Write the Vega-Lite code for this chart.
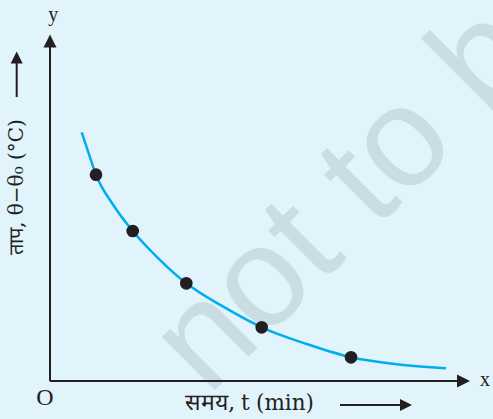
{
  "$schema": "https://vega.github.io/schema/vega-lite/v6.json",
  "width": 493,
  "height": 419,
  "autosize": {"type": "none"},
  "padding": 0,
  "background": "#e1f3fb",
  "config": {"view": {"stroke": null}},
  "datasets": {
    "curve": [
      {"t": 31.7, "v": 248.7},
      {"t": 38.7, "v": 227.7},
      {"t": 46, "v": 206.3},
      {"t": 63.3, "v": 176},
      {"t": 82.7, "v": 150},
      {"t": 108.3, "v": 122.7},
      {"t": 136.3, "v": 97.7},
      {"t": 173.3, "v": 74.3},
      {"t": 211.7, "v": 53.7},
      {"t": 256.7, "v": 37},
      {"t": 301, "v": 23.7},
      {"t": 346.7, "v": 16.7},
      {"t": 396, "v": 12.7}
    ],
    "points": [
      {"t": 46, "v": 206.3},
      {"t": 82.7, "v": 150},
      {"t": 136.3, "v": 97.7},
      {"t": 211.7, "v": 53.7},
      {"t": 301, "v": 23.7}
    ],
    "axes": [
      {"x1": 0, "y1": 0, "x2": 0, "y2": 335},
      {"x1": 0, "y1": 0, "x2": 408, "y2": 0},
      {"x1": -33.3, "y1": 284, "x2": -33.3, "y2": 319},
      {"x1": 290, "y1": -24, "x2": 351, "y2": -24}
    ],
    "heads": [
      {"x": 0, "y": 340, "dir": "up", "s": 169},
      {"x": 413.5, "y": 0, "dir": "right", "s": 169},
      {"x": -33.3, "y": 323.5, "dir": "up", "s": 144},
      {"x": 356, "y": -24, "dir": "right", "s": 144}
    ],
    "labels": [
      {"x": 3.3, "y": 366, "text": "y", "size": 20},
      {"x": 435, "y": 1, "text": "x", "size": 20},
      {"x": -5, "y": -17, "text": "O", "size": 24}
    ]
  },
  "layer": [
    {
      "data": {"values": [{"x": 158, "y": -16, "text": "not to be"}]},
      "mark": {"type": "text", "font": "Liberation Sans", "fontSize": 142, "angle": -45, "align": "left", "baseline": "alphabetic", "color": "#c9dde4"},
      "encoding": {
        "x": {"field": "x", "type": "quantitative", "scale": {"domain": [-50, 443], "nice": false, "zero": false}, "axis": null},
        "y": {"field": "y", "type": "quantitative", "scale": {"domain": [-38, 381], "nice": false, "zero": false}, "axis": null},
        "text": {"field": "text"}
      }
    },
    {
      "data": {"name": "axes"},
      "mark": {"type": "rule", "color": "#231f20", "strokeWidth": 2},
      "encoding": {
        "x": {"field": "x1", "type": "quantitative"},
        "y": {"field": "y1", "type": "quantitative"},
        "x2": {"field": "x2"},
        "y2": {"field": "y2"}
      }
    },
    {
      "data": {"name": "heads"},
      "transform": [{"filter": "datum.dir === 'up'"}],
      "mark": {"type": "point", "shape": "M0,-1L1,1L-1,1Z", "filled": true, "color": "#231f20", "opacity": 1, "strokeWidth": 0},
      "encoding": {
        "x": {"field": "x", "type": "quantitative"},
        "y": {"field": "y", "type": "quantitative"},
        "size": {"field": "s", "type": "quantitative", "scale": null}
      }
    },
    {
      "data": {"name": "heads"},
      "transform": [{"filter": "datum.dir === 'right'"}],
      "mark": {"type": "point", "shape": "M1,0L-1,-1L-1,1Z", "filled": true, "color": "#231f20", "opacity": 1, "strokeWidth": 0},
      "encoding": {
        "x": {"field": "x", "type": "quantitative"},
        "y": {"field": "y", "type": "quantitative"},
        "size": {"field": "s", "type": "quantitative", "scale": null}
      }
    },
    {
      "data": {"name": "curve"},
      "mark": {"type": "line", "color": "#00aeef", "strokeWidth": 2.5, "interpolate": "monotone"},
      "encoding": {
        "x": {"field": "t", "type": "quantitative"},
        "y": {"field": "v", "type": "quantitative"}
      }
    },
    {
      "data": {"name": "points"},
      "mark": {"type": "point", "shape": "circle", "filled": true, "color": "#231f20", "opacity": 1, "size": 160},
      "encoding": {
        "x": {"field": "t", "type": "quantitative"},
        "y": {"field": "v", "type": "quantitative"}
      }
    },
    {
      "data": {"name": "labels"},
      "mark": {"type": "text", "font": "Liberation Serif", "align": "center", "baseline": "middle", "color": "#231f20"},
      "encoding": {
        "x": {"field": "x", "type": "quantitative"},
        "y": {"field": "y", "type": "quantitative"},
        "text": {"field": "text"},
        "size": {"field": "size", "type": "quantitative", "scale": null}
      }
    },
    {
      "data": {"values": [{"x": -33.3, "y": 194, "text": "ताप, θ−θ₀ (°C)"}]},
      "mark": {"type": "text", "font": "DejaVu Serif", "fontSize": 20, "angle": 270, "align": "center", "baseline": "middle", "color": "#231f20"},
      "encoding": {
        "x": {"field": "x", "type": "quantitative"},
        "y": {"field": "y", "type": "quantitative"},
        "text": {"field": "text"}
      }
    },
    {
      "data": {"values": [
        {"x": 135, "y": -29, "text": "समय,", "style": "italic", "size": 23},
        {"x": 191, "y": -29, "text": "t", "style": "italic", "size": 21.5},
        {"x": 206, "y": -29, "text": "(min)", "style": "normal", "size": 21.5}
      ]},
      "mark": {"type": "text", "font": "DejaVu Serif", "align": "left", "baseline": "alphabetic", "color": "#231f20"},
      "encoding": {
        "x": {"field": "x", "type": "quantitative"},
        "y": {"field": "y", "type": "quantitative"},
        "text": {"field": "text"},
        "fontStyle": {"field": "style", "type": "nominal", "scale": null},
        "size": {"field": "size", "type": "quantitative", "scale": null}
      }
    }
  ]
}
